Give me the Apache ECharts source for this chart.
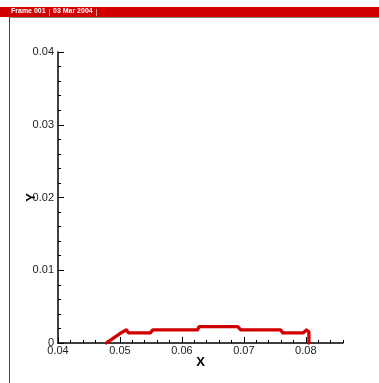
<!DOCTYPE html>
<html>
<head>
<meta charset="utf-8">
<script src="https://cdn.jsdelivr.net/npm/echarts@6/dist/echarts.min.js"></script>
<style>
html,body{margin:0;padding:0;background:#fff;}
#chart{width:379px;height:383px;}
</style>
</head>
<body>
<div id="chart"></div>
<script>
// Profile curve Y(X)
const xValues = [0.0478, 0.0490, 0.0500, 0.0510, 0.0514, 0.0549, 0.0553, 0.0625, 0.0628, 0.0690, 0.0695, 0.0759, 0.0763, 0.0796, 0.0801, 0.0805, 0.0805];
const yValues = [0.0000, 0.0007, 0.0013, 0.0018, 0.0014, 0.0014, 0.0018, 0.0018, 0.00225, 0.00225, 0.0018, 0.0018, 0.0014, 0.0014, 0.0018, 0.0015, 0.0000];

// Axis ticks
const xMajorTicks = [0.04, 0.05, 0.06, 0.07, 0.08];
const xMinorTicks = [0.042, 0.044, 0.046, 0.048, 0.052, 0.054, 0.056, 0.058, 0.062, 0.064, 0.066, 0.068, 0.072, 0.074, 0.076, 0.078, 0.082, 0.084, 0.086];
const xTickLabels = ['0.04', '0.05', '0.06', '0.07', '0.08'];
const yTickLabels = ['0', '0.01', '0.02', '0.03', '0.04'];

const headerText = ['Frame 001', '03 Mar 2004'];

const chart = echarts.init(document.getElementById('chart'), null, {renderer: 'canvas'});

const grid = {left: 58, right: 36, top: 52, bottom: 40};
const labelStyle = {fontFamily: 'Liberation Sans, Arial, sans-serif', fontSize: 11, color: '#222'};

chart.setOption({
  animation: false,
  backgroundColor: '#fff',
  grid: grid,
  xAxis: [{
    type: 'value', min: 0.04, max: 0.086,
    axisLine: {show: true, onZero: false, lineStyle: {color: '#000', width: 1.5}},
    axisTick: {show: true, inside: true, length: 6, customValues: xMajorTicks, lineStyle: {color: '#000', width: 1}},
    axisLabel: {
      show: true, margin: 2, customValues: xMajorTicks,
      formatter: v => xTickLabels[xMajorTicks.findIndex(t => Math.abs(t - v) < 1e-9)] || '',
      ...labelStyle
    },
    splitLine: {show: false},
    name: 'X', nameLocation: 'middle', nameGap: 13, nameMoveOverlap: false,
    nameTextStyle: {fontFamily: 'Liberation Sans, Arial, sans-serif', fontSize: 13, fontWeight: 'bold', color: '#000'}
  }, {
    type: 'value', min: 0.04, max: 0.086, position: 'bottom',
    axisLine: {show: false},
    axisTick: {show: true, inside: true, length: 3, customValues: xMinorTicks, lineStyle: {color: '#000', width: 1}},
    axisLabel: {show: false},
    splitLine: {show: false}
  }],
  yAxis: {
    type: 'value', min: 0, max: 0.04, interval: 0.01,
    axisLine: {show: true, onZero: false, lineStyle: {color: '#000', width: 1.5}},
    axisTick: {show: true, inside: true, length: 6, lineStyle: {color: '#000', width: 1}},
    minorTick: {show: true, splitNumber: 5, length: 3, lineStyle: {color: '#000', width: 1}},
    axisLabel: {
      margin: 4,
      formatter: (v, i) => yTickLabels[i],
      ...labelStyle
    },
    splitLine: {show: false},
    minorSplitLine: {show: false},
    name: 'Y', nameLocation: 'middle', nameGap: 20, nameRotate: 90, nameMoveOverlap: false,
    nameTextStyle: {fontFamily: 'Liberation Sans, Arial, sans-serif', fontSize: 13, fontWeight: 'bold', color: '#000'}
  },
  series: [{
    type: 'line',
    xAxisIndex: 0,
    data: xValues.map((x, i) => [x, yValues[i]]),
    showSymbol: false,
    lineStyle: {color: '#d00000', width: 3.3, join: 'round', cap: 'round'},
    clip: false
  }],
  graphic: [
    {type: 'rect', shape: {x: 0, y: 7, width: 379, height: 10}, style: {fill: '#d10000'}, silent: true},
    {type: 'line', shape: {x1: 9, y1: 17.5, x2: 379, y2: 17.5}, style: {stroke: '#888', lineWidth: 1}, silent: true},
    {type: 'line', shape: {x1: 9.5, y1: 17, x2: 9.5, y2: 383}, style: {stroke: '#444', lineWidth: 1}, silent: true},
    {type: 'text', left: 11, top: 8, style: {text: headerText[0], fill: '#fff', font: 'bold 7px Liberation Sans, Arial, sans-serif'}},
    {type: 'line', shape: {x1: 49.5, y1: 9, x2: 49.5, y2: 16}, style: {stroke: '#f09090', lineWidth: 1}},
    {type: 'text', left: 53, top: 8, style: {text: headerText[1], fill: '#fff', font: 'bold 7px Liberation Sans, Arial, sans-serif'}},
    {type: 'line', shape: {x1: 96.5, y1: 9, x2: 96.5, y2: 16}, style: {stroke: '#f09090', lineWidth: 1}}
  ]
});
</script>
</body>
</html>
